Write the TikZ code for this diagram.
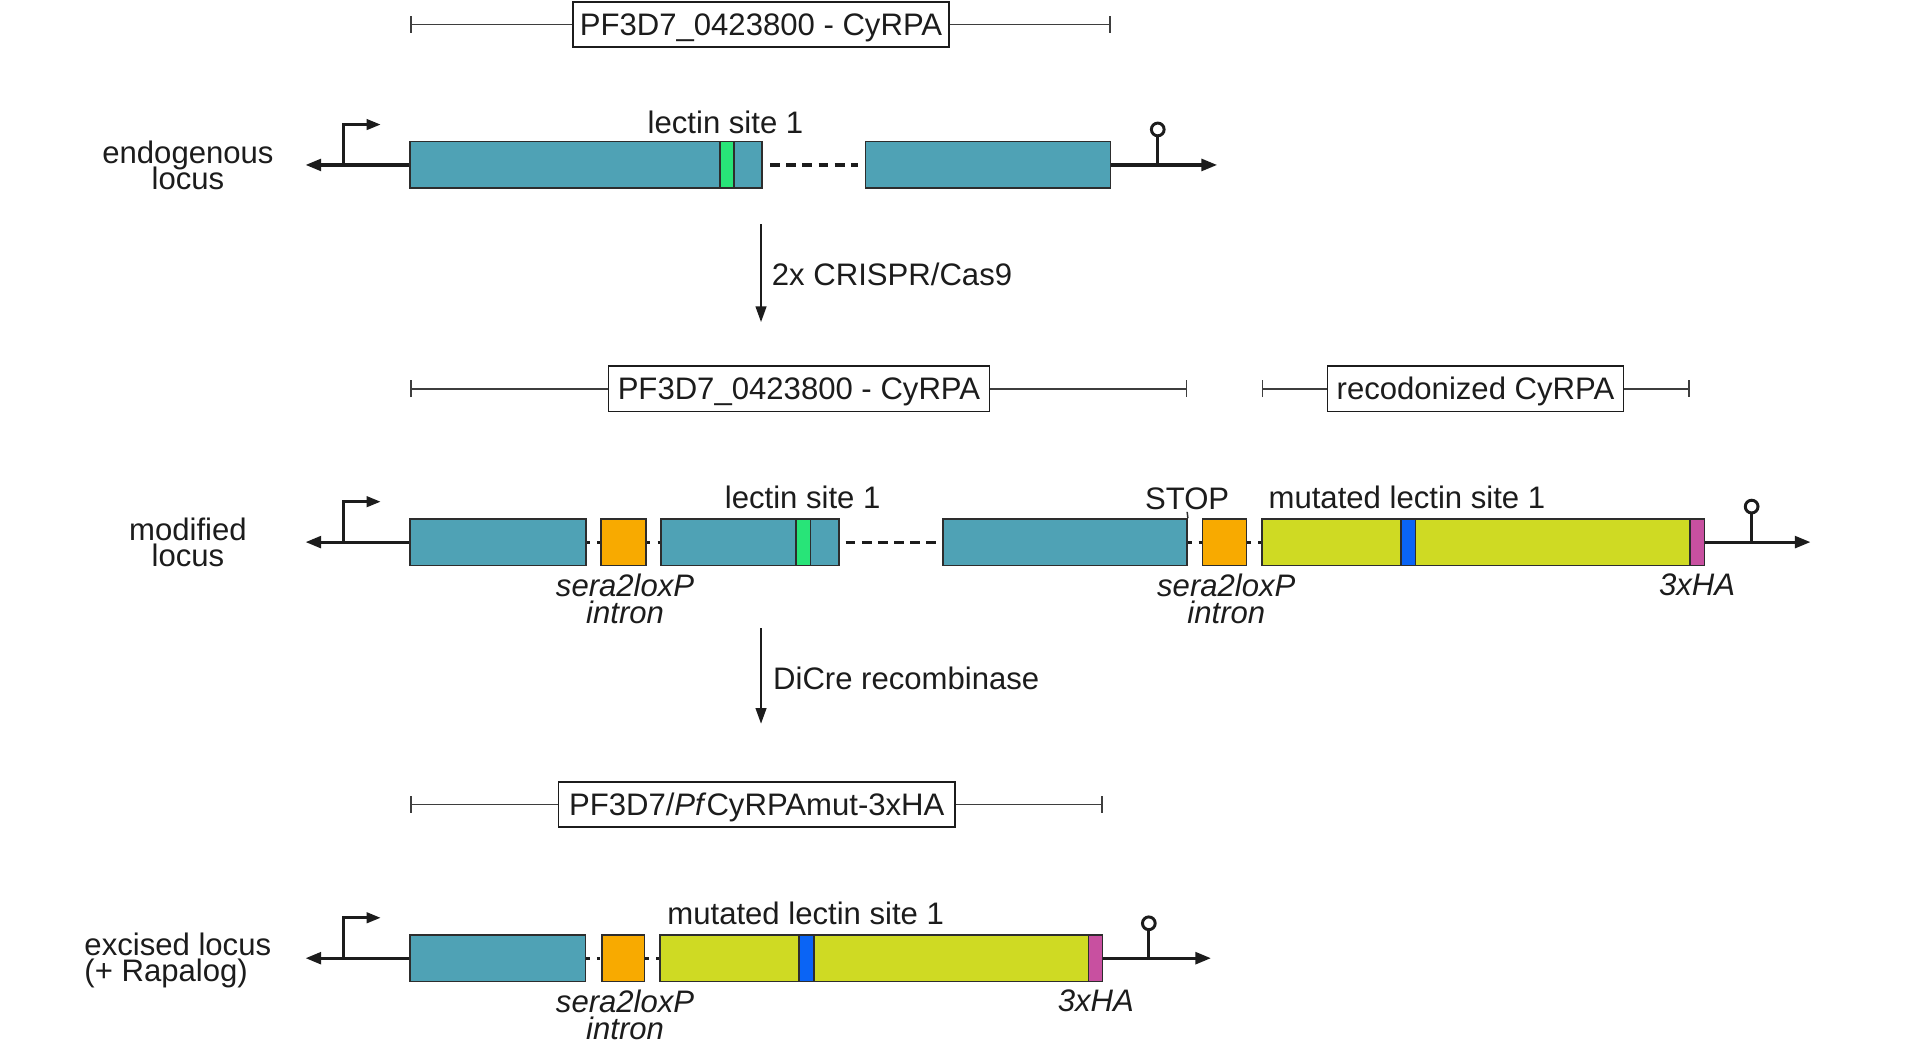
\documentclass[tikz,border=0pt]{standalone}
\usepackage{fontspec}
\setmainfont{Liberation Sans}
\usetikzlibrary{arrows.meta,fit}
\definecolor{exonteal}{RGB}{79,162,181}
\definecolor{lectgreen}{RGB}{40,228,120}
\definecolor{intronorange}{RGB}{248,170,0}
\definecolor{recodyellow}{RGB}{207,218,35}
\definecolor{mutblue}{RGB}{10,100,245}
\definecolor{hapink}{RGB}{200,80,160}
\definecolor{edgegray}{RGB}{45,45,45}
\definecolor{ink}{RGB}{28,28,28}
\newcommand\mytightlines{\lineskiplimit-20pt\relax\lineskip0pt\relax}
\newcommand\mylabfont{\fontsize{12.7}{10.8}\selectfont\mytightlines}
\newcommand\myitfont{\fontsize{12.7}{11}\selectfont\itshape\mytightlines}
\begin{document}
\begin{tikzpicture}[x=0.5pt,y=-0.5pt,
  txt/.style={inner sep=0pt, text=ink, font=\mylabfont},
  itxt/.style={inner sep=0pt, text=ink, font=\myitfont},
  lbox/.style={draw=ink, line width=0.65pt, fill=white, inner xsep=2.5pt, inner ysep=0pt, minimum height=18.5pt, text height=9.1pt, text depth=0pt, text=ink, font=\mylabfont},
  bar/.style={draw=ink!85, line width=0.65pt},
  exon/.style={draw=edgegray, line width=0.6pt, inner sep=0pt, fill=exonteal},
  intron/.style={exon, fill=intronorange},
  recod/.style={exon, fill=recodyellow},
  band/.style={draw=edgegray, line width=0.6pt},
  backbone/.style={draw=ink, line width=1.3pt},
  endarrow/.style={backbone, -{Triangle[length=6.4pt,width=4.8pt]}},
  promarrow/.style={backbone, -{Triangle[length=5.8pt,width=4.2pt]}},
  longgap/.style={backbone, dash pattern=on 4pt off 2.6pt, shorten <=3pt, shorten >=3pt},
  shortgap/.style={backbone, dash pattern=on 1.5pt off 2.9pt},
  termcirc/.style={circle, draw=ink, line width=1.2pt, fill=white, inner sep=0pt, minimum size=5.2pt},
  procarrow/.style={draw=ink, line width=0.75pt, -{Triangle[length=6.4pt,width=4.4pt]}}
]
\fill[white] (0,0) rectangle (1568,859);
\useasboundingbox (0,0) rectangle (1568,859);

% ================= row 1: endogenous locus =================
\node[lbox, minimum width=153.5pt] (g1) at (621.5,20) {PF3D7\_0423800 - CyRPA};
\coordinate (g1l) at (335,20);
\coordinate (g1r) at (907,20);
\draw[bar, {Bar[width=6.8pt]}-] (g1l) -- (g1.west);
\draw[bar, -{Bar[width=6.8pt]}] (g1.east) -- (g1r);

\node[txt, align=center] (lab1) at (153.5,135) {endogenous\\locus};
\node[exon, fit={(335,115.7)(622.3,153.7)}] (e11) {};
\node[exon, fit={(707,115.7)(907,153.7)}] (e12) {};
\draw[band, fill=lectgreen] (588,115.7) rectangle (599.5,153.7);
\node[txt, anchor=base] (lec1) at (592.5,109) {lectin site 1};
\coordinate (l1) at (249.5,134.7);
\coordinate (r1) at (994,134.7);
\draw[endarrow] (e11.west) -- (l1);
\coordinate (pb1) at (280.5,134.7);
\coordinate (pt1) at (311,101.7);
\draw[promarrow] (pb1) |- (pt1);
\draw[longgap] (e11.east) -- (e12.west);
\draw[endarrow] (e12.east) -- (r1);
\node[termcirc] (tc1) at (945.5,105.7) {};
\coordinate (tb1) at (945.5,134.7);
\draw[backbone] (tb1) -- (tc1.south);

% ================= arrow 1 =================
\coordinate (a1s) at (621.5,183);
\coordinate (a1e) at (621.5,263);
\draw[procarrow] (a1s) -- (a1e);
\node[txt, anchor=base west] (a1t) at (630,233.5) {2x CRISPR/Cas9};

% ================= row 2: modified locus =================
\node[lbox, minimum width=155.5pt] (g2) at (652.5,317.5) {PF3D7\_0423800 - CyRPA};
\coordinate (g2l) at (335,317.5);
\coordinate (g2r) at (969.5,317.5);
\draw[bar, {Bar[width=6.8pt]}-] (g2l) -- (g2.west);
\draw[bar, -{Bar[width=6.8pt]}] (g2.east) -- (g2r);
\node[lbox, minimum width=121pt] (g3) at (1205,317.5) {recodonized CyRPA};
\coordinate (g3l) at (1030.5,317.5);
\coordinate (g3r) at (1380,317.5);
\draw[bar, {Bar[width=6.8pt]}-] (g3l) -- (g3.west);
\draw[bar, -{Bar[width=6.8pt]}] (g3.east) -- (g3r);

\node[txt, align=center] (lab2) at (153.5,443) {modified\\locus};
\node[exon, fit={(335,423.7)(478.5,461.7)}] (e21) {};
\node[intron, fit={(491,423.7)(527.6,461.7)}] (i21) {};
\node[exon, fit={(540,423.7)(685,461.7)}] (e22) {};
\draw[band, fill=lectgreen] (650,423.7) rectangle (662,461.7);
\node[exon, fit={(770,423.7)(969.5,461.7)}] (e23) {};
\node[intron, fit={(982,423.7)(1018,461.7)}] (i22) {};
\node[recod, fit={(1030.5,423.7)(1392,461.7)}] (r21) {};
\draw[band, fill=mutblue] (1144,423.7) rectangle (1156,461.7);
\draw[band, fill=hapink] (1380,423.7) rectangle (1392,461.7);
\coordinate (stopt) at (969.5,418);
\draw[band] (e23.north east) -- (stopt);

\coordinate (l2) at (249.5,442.7);
\coordinate (r2) at (1478.6,442.7);
\draw[endarrow] (e21.west) -- (l2);
\coordinate (pb2) at (280.5,442.7);
\coordinate (pt2) at (311,409.7);
\draw[promarrow] (pb2) |- (pt2);
\draw[shortgap] (e21.east) -- (i21.west);
\draw[shortgap] (i21.east) -- (e22.west);
\draw[longgap, shorten <=2.5pt, shorten >=2.5pt] (e22.east) -- (e23.west);
\draw[shortgap] (e23.east) -- (i22.west);
\draw[shortgap] (i22.east) -- (r21.west);
\draw[endarrow] (r21.east) -- (r2);
\node[termcirc] (tc2) at (1430.5,413.7) {};
\coordinate (tb2) at (1430.5,442.7);
\draw[backbone] (tb2) -- (tc2.south);

\node[txt, anchor=base] (lec2) at (655.5,415) {lectin site 1};
\node[txt, anchor=base] (stop) at (969.5,416) {STOP};
\node[txt, anchor=base] (mut2) at (1149,415) {mutated lectin site 1};
\node[itxt, align=center] (int21) at (510.5,489) {sera2loxP\\intron};
\node[itxt, align=center] (int22) at (1001.5,489) {sera2loxP\\intron};
\node[itxt, anchor=base] (ha2) at (1386,486) {3xHA};

% ================= arrow 2 =================
\coordinate (a2s) at (621.5,513);
\coordinate (a2e) at (621.5,591);
\draw[procarrow] (a2s) -- (a2e);
\node[txt, anchor=base west] (a2t) at (631,563) {DiCre recombinase};

% ================= row 3: excised locus =================
\node[lbox, minimum width=162pt] (g4) at (618,657) {PF3D7/\textit{Pf}CyRPAmut-3xHA};
\coordinate (g4l) at (335,657);
\coordinate (g4r) at (900.5,657);
\draw[bar, {Bar[width=6.8pt]}-] (g4l) -- (g4.west);
\draw[bar, -{Bar[width=6.8pt]}] (g4.east) -- (g4r);

\node[txt, anchor=west, align=left] (lab3) at (68.6,784.5) {excised locus\\(+ Rapalog)};
\node[exon, fit={(335,763.5)(478,801.5)}] (e31) {};
\node[intron, fit={(491.5,763.5)(526.5,801.5)}] (i31) {};
\node[recod, fit={(539,763.5)(900.5,801.5)}] (r31) {};
\draw[band, fill=mutblue] (652.6,763.5) rectangle (664.8,801.5);
\draw[band, fill=hapink] (889,763.5) rectangle (900.5,801.5);

\coordinate (l3) at (249.5,782.5);
\coordinate (r3) at (989,782.5);
\draw[endarrow] (e31.west) -- (l3);
\coordinate (pb3) at (280.5,782.5);
\coordinate (pt3) at (311,749.5);
\draw[promarrow] (pb3) |- (pt3);
\draw[shortgap] (e31.east) -- (i31.west);
\draw[shortgap] (i31.east) -- (r31.west);
\draw[endarrow] (r31.east) -- (r3);
\node[termcirc] (tc3) at (938.2,754) {};
\coordinate (tb3) at (938.2,782.5);
\draw[backbone] (tb3) -- (tc3.south);

\node[txt, anchor=base] (mut3) at (658,755) {mutated lectin site 1};
\node[itxt, align=center] (int31) at (510.5,829) {sera2loxP\\intron};
\node[itxt, anchor=base] (ha3) at (895,826) {3xHA};
\end{tikzpicture}
\end{document}
